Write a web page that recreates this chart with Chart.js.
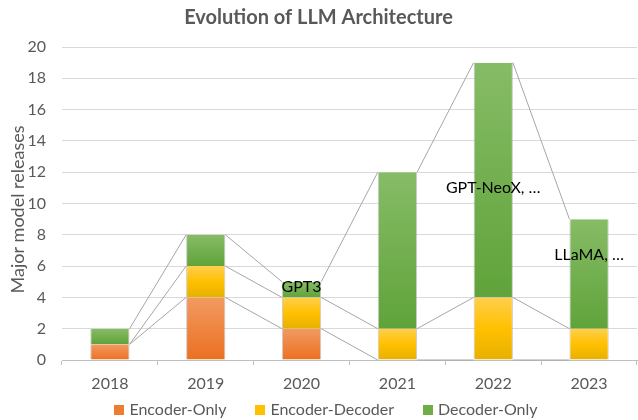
<!DOCTYPE html>
<html>
<head>
<meta charset="utf-8">
<script src="https://cdn.jsdelivr.net/npm/chart.js@4/dist/chart.umd.min.js"></script>
<style>
html,body{margin:0;padding:0;background:#fff;}
#wrap{width:638px;height:420px;position:relative;}
</style>
</head>
<body>
<div id="wrap"><canvas id="c" width="638" height="420"></canvas></div>
<script>
const years = ['2018','2019','2020','2021','2022','2023'];
const encoderOnly    = [1, 4, 2, 0, 0, 0];
const encoderDecoder = [0, 2, 2, 2, 4, 2];
const decoderOnly    = [1, 2, 1, 10, 15, 7];
const seriesNames = ['Encoder-Only', 'Encoder-Decoder', 'Decoder-Only'];
const yTicks = [0, 2, 4, 6, 8, 10, 12, 14, 16, 18, 20];
const yAxisTitle = 'Major model releases';
// annotation labels: category, text, y-value where text is centred
const noteYears  = ['2020', '2022', '2023'];
const noteTexts  = ['GPT3', 'GPT-NeoX, …', 'LLaMA, …'];
const noteValues = [4.7, 11.0, 6.7];

const FONT = 'Lato, "Open Sans", sans-serif';
const allSeries = [encoderOnly, encoderDecoder, decoderOnly];
const gradStops = [
  [[0,'#F29A62'],[1,'#EC7020']],
  [[0,'#FFCF4D'],[0.5,'#FFC000'],[1,'#E7B000']],
  [[0,'#86BC66'],[1,'#60A33A']]
];
const solid = ['#ED7D31','#FFC000','#70AD47'];

function cumBase(ds, i){ let s=0; for(let k=0;k<ds;k++) s+=allSeries[k][i]; return s; }

function makeBg(ds){
  return function(ctx){
    const chart = ctx.chart;
    if(!chart.chartArea || ctx.type !== 'data') return solid[ds];
    const y = chart.scales.y;
    const i = ctx.dataIndex;
    const b = cumBase(ds,i), t = b + allSeries[ds][i];
    const yb = y.getPixelForValue(b), yt = y.getPixelForValue(t);
    if(!isFinite(yb) || !isFinite(yt) || yb===yt) return solid[ds];
    const g = chart.ctx.createLinearGradient(0, yt, 0, yb);
    gradStops[ds].forEach(s => g.addColorStop(s[0], s[1]));
    return g;
  };
}

const seriesLines = {
  id:'seriesLines',
  beforeDatasetsDraw(chart){
    const c = chart.ctx, y = chart.scales.y;
    const meta0 = chart.getDatasetMeta(0);
    c.save();
    c.strokeStyle = '#A6A6A6';
    c.lineWidth = 1;
    for(let s=0;s<allSeries.length;s++){
      for(let i=0;i<years.length-1;i++){
        const a = meta0.data[i], b = meta0.data[i+1];
        const x1 = a.x + a.width/2, x2 = b.x - b.width/2;
        const y1 = y.getPixelForValue(cumBase(s+1,i));
        const y2 = y.getPixelForValue(cumBase(s+1,i+1));
        c.beginPath(); c.moveTo(x1,y1); c.lineTo(x2,y2); c.stroke();
      }
    }
    c.restore();
  },
  afterDatasetsDraw(chart){
    const c = chart.ctx, x = chart.scales.x, y = chart.scales.y;
    c.save();
    c.fillStyle = '#000';
    c.font = '16px ' + FONT;
    c.textAlign = 'center';
    c.textBaseline = 'middle';
    noteTexts.forEach((t,k)=>{
      const px = x.getPixelForValue(years.indexOf(noteYears[k]));
      const py = y.getPixelForValue(noteValues[k]);
      c.fillText(t, px, py);
    });
    c.restore();
  },
  afterDraw(chart){
    const c = chart.ctx;
    // y axis title
    c.save();
    c.font = '18px ' + FONT;
    c.fillStyle = '#595959';
    c.textAlign = 'center';
    c.textBaseline = 'middle';
    c.translate(18, (chart.chartArea.top + chart.chartArea.bottom)/2 + 6);
    c.rotate(-Math.PI/2);
    c.fillText(yAxisTitle, 0, 0);
    c.restore();
    // bottom legend
    c.save();
    c.font = '16px ' + FONT;
    c.textBaseline = 'middle';
    c.textAlign = 'left';
    const box = 10, gapIn = 5, gapOut = 29, cy = 410;
    const widths = seriesNames.map(n => c.measureText(n).width);
    const total = widths.reduce((a,b)=>a+b,0) + seriesNames.length*(box+gapIn) + (seriesNames.length-1)*gapOut;
    let x = 326 - total/2;
    seriesNames.forEach((n,k)=>{
      c.fillStyle = solid[k];
      c.fillRect(Math.round(x), cy - box/2, box, box);
      x += box + gapIn;
      c.fillStyle = '#595959';
      c.fillText(n, x, cy);
      x += widths[k] + gapOut;
    });
    c.restore();
  }
};

const datasets = seriesNames.map((n,k)=>({
  label:n,
  data:allSeries[k],
  backgroundColor: makeBg(k),
  borderColor:'rgba(160,160,160,0.55)',
  borderWidth:{left:1,right:1,top:0,bottom:0},
  borderSkipped:false,
  barPercentage:0.41,
  categoryPercentage:1
}));

new Chart(document.getElementById('c'),{
  type:'bar',
  data:{labels:years,datasets},
  options:{
    responsive:false,
    animation:false,
    devicePixelRatio:1,
    layout:{padding:{left:0,right:1,top:0,bottom:24}},
    plugins:{
      title:{display:true,text:'Evolution of LLM Architecture',color:'#595959',
        font:{family:FONT,size:20,weight:'bold'},padding:{top:6,bottom:17}},
      legend:{display:false},
      tooltip:{enabled:false}
    },
    scales:{
      x:{stacked:true,
        afterFit(scale){ scale.height = 36; },
        grid:{display:true,drawOnChartArea:false,drawTicks:true,tickLength:5,color:'#BFBFBF',offset:true},
        border:{display:true,color:'#BFBFBF'},
        ticks:{color:'#595959',font:{family:FONT,size:16},padding:9}},
      y:{stacked:true,min:0,max:20,
        afterBuildTicks(scale){ scale.ticks = yTicks.map(v=>({value:v})); },
        afterFit(scale){ scale.width = 62; },
        grid:{color:'#D9D9D9',drawTicks:false},
        border:{display:false},
        ticks:{color:'#595959',font:{family:FONT,size:16},padding:16},
        title:{display:false}}
    }
  },
  plugins:[seriesLines]
});
</script>
</body>
</html>
